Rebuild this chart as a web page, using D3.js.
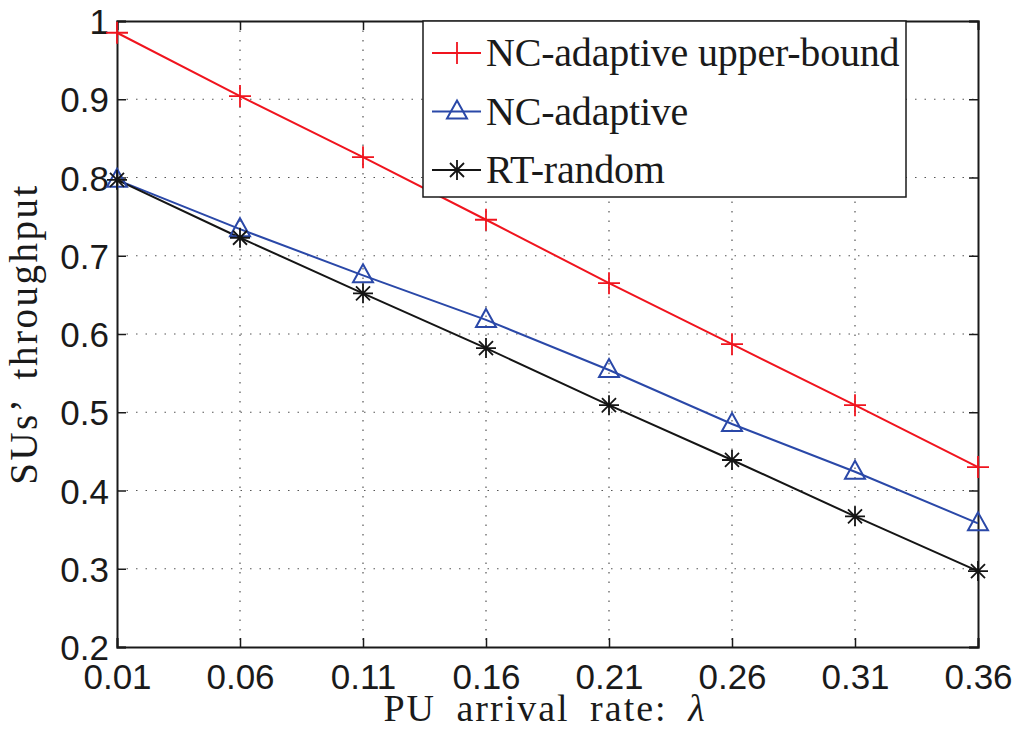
<!DOCTYPE html>
<html>
<head>
<meta charset="utf-8">
<script src="https://cdn.jsdelivr.net/npm/d3@7"></script>
<style>
  body { margin: 0; background: #fff; }
  svg { display: block; }
</style>
</head>
<body>
<script>
// SUs' throughput vs PU arrival rate

const lambdas = [0.01, 0.06, 0.11, 0.16, 0.21, 0.26, 0.31, 0.36];
const upperBound = [0.985, 0.904, 0.826, 0.746, 0.665, 0.587, 0.509, 0.430];
const ncAdaptive = [0.797, 0.734, 0.675, 0.618, 0.554, 0.485, 0.424, 0.358];
const rtRandom = [0.797, 0.723, 0.652, 0.582, 0.509, 0.439, 0.367, 0.297];
const yTicks = [0.2, 0.3, 0.4, 0.5, 0.6, 0.7, 0.8, 0.9, 1];
const seriesNames = ["NC-adaptive upper-bound", "NC-adaptive", "RT-random"];

const width = 1019;
const height = 730;
const margin = { top: 21, right: 41, bottom: 83, left: 117 };
const plotW = width - margin.left - margin.right;
const plotH = height - margin.top - margin.bottom;

const series = [
  { name: seriesNames[0], values: upperBound, color: "#f0141e", marker: "plus" },
  { name: seriesNames[1], values: ncAdaptive, color: "#2a48a8", marker: "triangle" },
  { name: seriesNames[2], values: rtRandom, color: "#151515", marker: "star" }
];

const serif = "'Liberation Serif', 'Times New Roman', serif";

const svg = d3.select("body").append("svg")
  .attr("width", width)
  .attr("height", height);

const g = svg.append("g")
  .attr("transform", `translate(${margin.left},${margin.top})`);

const x = d3.scaleLinear().domain([0.01, 0.36]).range([0, plotW]);
const y = d3.scaleLinear().domain([0.2, 1]).range([plotH, 0]);

// grid
g.append("g").selectAll("line")
  .data(lambdas.slice(1, -1))
  .enter().append("line")
  .attr("x1", (d) => x(d)).attr("x2", (d) => x(d))
  .attr("y1", 0).attr("y2", plotH)
  .attr("stroke", "#555").attr("stroke-width", 1.2)
  .attr("stroke-dasharray", "1.5,8");

g.append("g").selectAll("line")
  .data(yTicks.slice(1, -1))
  .enter().append("line")
  .attr("x1", 0).attr("x2", plotW)
  .attr("y1", (d) => y(d)).attr("y2", (d) => y(d))
  .attr("stroke", "#555").attr("stroke-width", 1.2)
  .attr("stroke-dasharray", "1.5,8");

// axes
const tickFont = "'Liberation Sans', Arial, sans-serif";

const xAxis = g.append("g")
  .attr("transform", `translate(0,${plotH})`)
  .call(d3.axisBottom(x).tickValues(lambdas).tickSize(-9).tickPadding(17)
    .tickFormat(d3.format(".2f")));
const yAxis = g.append("g")
  .call(d3.axisLeft(y).tickValues(yTicks).tickSize(-9).tickPadding(8)
    .tickFormat((d) => (d === 1 ? "1" : d3.format(".1f")(d))));
const xTop = g.append("g")
  .call(d3.axisTop(x).tickValues(lambdas).tickSize(-9).tickFormat(""));
const yRight = g.append("g")
  .attr("transform", `translate(${plotW},0)`)
  .call(d3.axisRight(y).tickValues(yTicks).tickSize(-9).tickFormat(""));

[xAxis, yAxis, xTop, yRight].forEach((a) => {
  a.select(".domain").attr("stroke", "#1a1a1a").attr("stroke-width", 2);
  a.selectAll(".tick line").attr("stroke", "#1a1a1a").attr("stroke-width", 1.5);
  a.selectAll("text")
    .attr("font-family", tickFont)
    .attr("font-size", 35)
    .attr("fill", "#1a1a1a");
});
xAxis.selectAll("text").attr("dy", "0.71em");
yAxis.selectAll("text").attr("dy", "0.36em");

// lines
const line = d3.line()
  .x((d, i) => x(lambdas[i]))
  .y((d) => y(d));

series.forEach((s) => {
  g.append("path")
    .datum(s.values)
    .attr("fill", "none")
    .attr("stroke", s.color)
    .attr("stroke-width", 2)
    .attr("d", line);
});

function drawMarker(sel, type, color) {
  if (type === "plus") {
    sel.append("path").attr("d", "M-11,0H11M0,-11V11")
      .attr("stroke", color).attr("stroke-width", 1.8).attr("fill", "none");
  } else if (type === "triangle") {
    sel.append("path").attr("d", "M0,-11L10,7L-10,7Z")
      .attr("stroke", color).attr("stroke-width", 2).attr("fill", "none");
  } else {
    sel.append("path").attr("d", "M-10,0H10M0,-10V10M-7,-7L7,7M-7,7L7,-7")
      .attr("stroke", color).attr("stroke-width", 1.8).attr("fill", "none");
  }
}

series.forEach((s) => {
  s.values.forEach((v, i) => {
    const m = g.append("g").attr("transform", `translate(${x(lambdas[i])},${y(v)})`);
    drawMarker(m, s.marker, s.color);
  });
});

// legend
const legend = svg.append("g").attr("transform", "translate(423,21)");
legend.append("rect")
  .attr("width", 483).attr("height", 176)
  .attr("fill", "#fff").attr("stroke", "#1a1a1a").attr("stroke-width", 1.5);

series.forEach((s, i) => {
  const row = legend.append("g").attr("transform", `translate(0,${32 + i * 58.5})`);
  row.append("line").attr("x1", 9).attr("x2", 58).attr("y1", 0).attr("y2", 0)
    .attr("stroke", s.color).attr("stroke-width", 2);
  drawMarker(row.append("g").attr("transform", "translate(34,0)"), s.marker, s.color);
  row.append("text")
    .attr("x", 63).attr("y", 13)
    .attr("font-family", serif)
    .attr("font-size", 40)
    .attr("letter-spacing", -0.2)
    .attr("fill", "#1a1a1a")
    .text(s.name);
});

// axis titles
svg.append("text")
  .attr("x", 545)
  .attr("y", 721)
  .attr("text-anchor", "middle")
  .attr("font-family", serif)
  .attr("font-size", 38)
  .attr("letter-spacing", 2)
  .attr("word-spacing", 9)
  .attr("fill", "#1a1a1a")
  .html("PU arrival rate: <tspan font-style='italic'>λ</tspan>");

svg.append("text")
  .attr("transform", "translate(37,334) rotate(-90)")
  .attr("text-anchor", "middle")
  .attr("font-family", serif)
  .attr("font-size", 39)
  .attr("letter-spacing", 2.5)
  .attr("word-spacing", 8)
  .attr("fill", "#1a1a1a")
  .text("SUs’ throughput");
</script>
</body>
</html>
